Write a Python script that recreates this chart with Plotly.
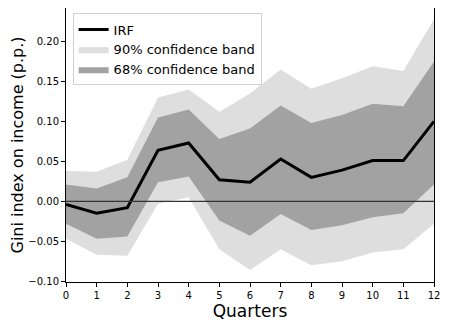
import plotly.graph_objects as go

quarters = list(range(13))
irf = [-0.004, -0.015, -0.008, 0.064, 0.073, 0.027, 0.024, 0.053, 0.030, 0.039, 0.051, 0.051, 0.100]
upper_90 = [0.038, 0.037, 0.052, 0.130, 0.140, 0.112, 0.135, 0.165, 0.141, 0.154, 0.169, 0.163, 0.228]
lower_90 = [-0.047, -0.067, -0.068, -0.003, 0.005, -0.060, -0.086, -0.060, -0.080, -0.075, -0.064, -0.060, -0.028]
upper_68 = [0.021, 0.016, 0.030, 0.105, 0.115, 0.078, 0.091, 0.120, 0.098, 0.108, 0.122, 0.119, 0.175]
lower_68 = [-0.028, -0.047, -0.044, 0.024, 0.031, -0.024, -0.043, -0.016, -0.036, -0.030, -0.020, -0.015, 0.021]

LIGHT = "#dedede"
DARK = "#a2a2a2"
FONT = "DejaVu Sans"

fig = go.Figure()

# 90% band
fig.add_trace(go.Scatter(x=quarters, y=lower_90, mode="lines", line=dict(width=0, color=LIGHT),
                         showlegend=False, hoverinfo="skip"))
fig.add_trace(go.Scatter(x=quarters, y=upper_90, mode="lines", line=dict(width=0, color=LIGHT),
                         fill="tonexty", fillcolor=LIGHT, name="90% confidence band"))
# 68% band
fig.add_trace(go.Scatter(x=quarters, y=lower_68, mode="lines", line=dict(width=0, color=DARK),
                         showlegend=False, hoverinfo="skip"))
fig.add_trace(go.Scatter(x=quarters, y=upper_68, mode="lines", line=dict(width=0, color=DARK),
                         fill="tonexty", fillcolor=DARK, name="68% confidence band"))
# IRF
fig.add_trace(go.Scatter(x=quarters, y=irf, mode="lines", line=dict(width=3, color="black"),
                         name="IRF", legendrank=1))

fig.add_hline(y=0, line=dict(color="#333333", width=1.2))

axis_common = dict(
    showgrid=False, zeroline=False, showline=True, mirror=True, automargin=False,
    linecolor="black", linewidth=1, ticks="outside", ticklen=4, tickcolor="black",
    tickfont=dict(size=10, color="black", family=FONT),
)

fig.update_xaxes(range=[0, 12], tickvals=quarters, title=dict(text="Quarters", font=dict(size=17), standoff=0),
                 **axis_common)
fig.update_yaxes(range=[-0.101, 0.242], tickvals=[-0.10, -0.05, 0.0, 0.05, 0.10, 0.15, 0.20],
                 tickformat=".2f", title=dict(text="Gini index on income (p.p.)", font=dict(size=16), standoff=0),
                 **axis_common)

# the page body adds an 8px offset, so the figure is sized to the remaining area
fig.update_layout(
    width=441, height=319,
    margin=dict(l=58, r=15, t=0, b=45),
    paper_bgcolor="white", plot_bgcolor="white",
    font=dict(family=FONT, color="black"),
    legend=dict(x=0.018, y=0.98, xanchor="left", yanchor="top", bgcolor="rgba(255,255,255,0.9)",
                bordercolor="#d0d0d0", borderwidth=1, font=dict(size=13), tracegroupgap=0,
                traceorder="normal", itemwidth=30),
)

fig.write_html("out.html")
